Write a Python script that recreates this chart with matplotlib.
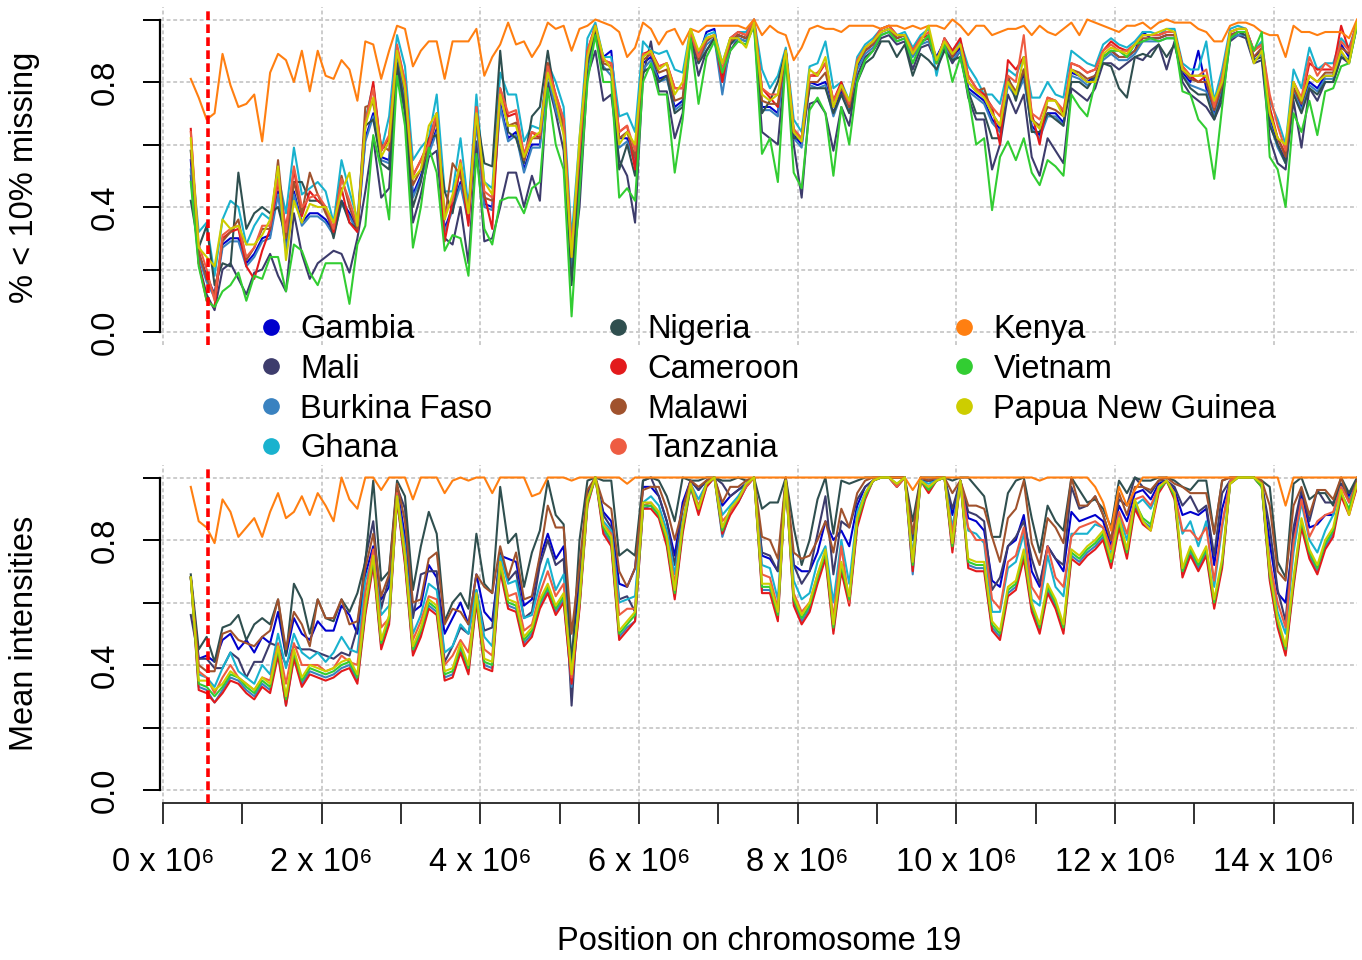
import numpy as np
import matplotlib.pyplot as plt
from matplotlib.lines import Line2D

plt.rcParams['font.family'] = ['Liberation Sans', 'DejaVu Sans']

# window midpoints along chromosome 19 (100 kb steps)
pos = np.arange(350000, 15100000, 100000)
cutoff = 570000  # red dashed marker

names = ['Gambia', 'Mali', 'Burkina Faso', 'Ghana', 'Nigeria', 'Cameroon',
         'Malawi', 'Tanzania', 'Kenya', 'Vietnam', 'Papua New Guinea']
colors = ['#0000CD', '#3D3C6C', '#3A82C0', '#19B2CE', '#2F4F4F', '#E31A1C',
          '#A0522D', '#EE5C42', '#FF7F11', '#32CD32', '#CDCD00']

# ---- top panel: fraction of probes with < 10% missing (in %) ----
gambia_miss = [55,25,18,12,28,30,30,22,25,30, 31,45,27,45,35,38,38,36,32,42, 38,33,62,70,56,55,88,75,44,50,
    58,65,33,40,48,36,68,41,40,73, 62,64,52,60,60,84,72,65,22,55, 85,97,88,90,62,62,55,86,88,81,
    82,72,74,96,88,96,97,82,93,95, 94,99,72,72,70,90,63,60,80,79, 80,70,77,72,85,90,92,96,97,94,
    95,89,93,94,88,93,88,91,78,76, 74,68,65,80,76,82,66,63,70,70, 67,83,82,80,82,88,90,88,88,90,
    96,94,94,95,95,83,80,90,78,70, 78,95,96,96,88,90,68,60,55,78, 72,80,78,82,82,92,88,99]
mali_miss = [50,22,12,7,20,22,17,12,19,20, 25,18,13,38,25,17,22,24,26,25, 19,30,45,62,43,46,84,70,35,44,
    56,58,30,28,40,22,61,29,30,40, 51,51,40,50,42,80,70,58,18,40, 82,90,74,76,55,50,35,82,93,77,
    77,62,70,95,82,90,94,80,90,94, 93,98,64,62,60,88,60,43,73,74, 70,58,72,66,82,88,90,94,95,92,
    93,84,91,92,86,91,86,90,75,68, 68,52,60,76,70,76,56,50,62,58, 54,78,76,74,78,86,86,84,86,88,
    87,90,92,84,93,80,76,74,72,68, 74,93,95,94,86,87,62,54,52,74, 59,78,74,80,80,88,86,98]
burkina_miss = [52,24,16,11,27,29,29,21,24,29, 30,44,26,44,34,37,37,35,31,41, 37,32,61,69,55,54,87,74,43,49,
    57,64,32,39,47,35,67,40,39,72, 61,63,51,59,59,83,71,64,21,54, 84,97,85,82,59,61,54,84,87,80,
    81,71,73,96,86,92,94,76,92,94, 93,99,71,71,69,89,62,59,79,78, 79,69,76,71,84,89,91,95,96,93,
    94,88,92,93,87,92,87,90,77,75, 73,67,64,79,75,81,65,62,69,69, 66,82,81,79,81,87,89,87,87,89,
    93,93,93,94,94,82,79,78,77,69, 77,94,95,95,87,89,67,59,54,77, 71,79,77,81,81,89,87,98]
ghana_miss = [58,32,35,18,36,42,40,28,34,38, 36,50,38,59,44,46,48,45,35,55, 45,36,68,79,58,69,95,85,55,59,
    62,76,45,45,62,40,76,48,46,83, 76,76,61,66,65,86,80,72,30,62, 94,99,88,88,69,70,64,93,90,89,
    90,84,83,97,89,95,96,86,94,96, 96,100,84,78,82,91,68,64,85,86, 93,78,80,74,88,92,94,97,98,95,
    96,91,95,97,82,94,90,93,85,81, 76,76,73,84,82,88,75,75,80,76, 75,90,88,86,85,92,94,92,91,93,
    96,96,95,97,97,86,84,84,93,74, 84,97,98,97,90,93,74,68,60,84, 78,91,84,86,86,94,91,99]
nigeria_miss = [42,27,34,15,22,21,51,33,38,40, 38,40,30,48,48,42,42,40,30,42, 35,33,66,68,54,52,86,72,40,48,
    62,63,45,38,54,38,70,54,53,90, 64,62,54,69,72,90,74,66,15,50, 86,96,84,84,52,60,50,83,85,80,
    82,70,72,95,86,90,94,82,92,95, 94,99,70,74,80,90,62,62,78,78, 78,70,76,70,80,86,88,93,93,88,
    92,82,89,87,84,90,87,88,77,70, 70,62,62,82,74,84,64,64,70,68, 66,80,80,78,82,86,85,78,75,88,
    89,88,92,88,92,82,78,76,76,68, 76,94,96,95,87,88,66,60,54,76, 70,78,76,80,80,88,87,99]
cameroon_miss = [65,22,10,8,30,32,33,21,17,26, 33,48,33,52,37,45,42,40,32,46, 35,32,66,80,58,62,91,80,50,55,
    61,70,29,42,52,34,72,44,33,78, 69,70,56,64,62,86,76,68,25,58, 90,98,87,86,64,66,52,89,90,85,
    86,78,78,96,88,94,95,80,94,96, 95,100,78,75,72,90,64,62,82,82, 86,74,80,72,86,91,93,97,98,95,
    95,90,94,95,86,94,90,94,82,78, 76,72,60,87,84,88,70,60,75,74, 70,86,85,83,84,90,93,91,90,92,
    95,95,95,96,96,85,82,80,82,72, 80,96,97,97,90,92,72,62,57,80, 74,86,84,84,84,98,90,99]
malawi_miss = [58,26,17,12,29,32,36,23,27,33, 33,55,30,48,38,51,44,38,33,50, 40,33,72,73,60,58,90,77,47,52,
    59,68,36,54,50,38,70,43,42,76, 66,67,55,62,62,86,74,66,24,57, 88,98,86,85,62,64,56,87,89,83,
    84,74,75,96,87,93,95,83,93,95, 94,99,74,73,73,90,64,61,80,80, 83,72,78,72,86,90,92,96,97,94,
    95,89,93,94,87,93,88,92,80,77, 78,70,66,81,77,84,68,66,72,71, 69,84,83,81,82,88,90,88,88,90,
    94,94,94,95,95,84,81,80,80,71, 79,95,96,96,88,91,70,62,56,78, 73,82,80,83,83,91,89,99]
tanzania_miss = [64,28,20,10,31,33,34,24,27,34, 34,49,32,53,40,43,44,40,33,49, 42,34,67,78,58,63,92,80,50,55,
    60,70,38,42,55,38,72,45,43,78, 70,71,57,64,63,85,76,68,27,58, 90,98,87,86,64,66,58,89,89,85,
    86,78,78,96,88,94,95,84,94,96, 95,100,78,76,76,90,65,62,82,83, 86,74,79,73,87,91,93,97,98,95,
    95,90,94,96,86,94,89,92,82,78, 75,72,69,82,80,95,70,68,75,74, 71,86,85,83,84,90,92,90,90,92,
    95,95,95,96,96,85,82,82,84,72, 82,96,97,97,90,92,76,66,58,80, 75,88,82,86,84,93,90,99]
kenya_miss = [81,75,68,70,89,79,72,73,76,61, 83,89,87,80,90,77,90,82,81,87, 84,74,93,92,81,90,98,97,85,90,
    93,93,81,93,93,93,97,82,88,92, 99,92,93,88,92,99,97,98,90,97, 98,100,99,98,96,88,91,99,97,92,
    96,97,92,97,96,98,98,98,98,98, 97,100,95,98,96,95,87,91,97,98, 97,97,96,98,98,98,98,97,98,98,
    97,98,97,98,98,97,100,98,95,98, 98,95,96,97,97,98,95,98,96,95, 97,99,95,100,99,98,97,96,98,98,
    99,97,99,100,99,99,99,97,96,93, 93,98,99,99,98,96,95,95,88,98, 96,96,95,96,96,96,94,100]
vietnam_miss = [48,21,10,8,13,15,19,10,18,17, 24,24,13,28,26,19,15,22,22,22, 9,28,34,63,52,36,82,66,27,40,
    59,51,26,31,30,18,57,33,28,42, 43,43,38,46,48,78,60,52,5,45, 80,95,80,80,43,46,42,80,86,76,
    76,51,68,94,73,88,93,83,90,93, 92,98,57,62,48,88,51,46,71,75, 70,50,72,60,80,87,90,95,96,93,
    94,86,92,95,86,92,80,88,76,60, 62,39,56,61,55,62,51,47,55,53, 50,76,72,69,80,88,90,90,88,92,
    93,94,93,94,94,77,76,68,65,49, 72,94,96,96,90,96,56,52,40,70, 64,74,63,77,78,85,86,98]
png_miss = [62,27,24,21,36,33,34,28,28,31, 36,53,23,42,35,41,40,40,35,45, 51,34,66,75,56,61,90,78,49,52,
    66,70,36,44,54,38,70,48,44,76, 66,66,56,62,64,83,74,63,24,62, 88,98,88,84,60,64,60,88,90,84,
    86,76,80,97,90,94,95,86,94,94, 91,99,76,74,76,90,64,61,84,82, 88,72,79,74,86,91,93,96,97,95,
    95,89,93,98,87,93,89,92,80,77, 75,70,66,80,76,88,68,65,74,74, 69,84,82,80,80,89,91,90,89,92,
    95,95,96,97,96,84,82,82,82,74, 80,96,97,97,86,90,70,62,60,80, 74,82,80,82,82,90,86,99]

# ---- bottom panel: mean intensities (in %) ----
gambia_int = [68,42,43,41,48,50,45,48,44,49, 47,57,43,55,50,48,54,51,51,59, 56,50,69,78,61,65,97,81,57,59,
    72,68,50,55,60,53,69,57,54,75, 74,73,59,61,74,82,74,78,40,68, 95,100,89,86,66,65,71,97,97,94,
    86,75,92,99,96,99,100,91,94,96, 98,100,75,74,70,99,72,70,70,76, 86,80,83,78,91,97,99,100,100,100,
    100,80,99,99,99,100,88,99,87,86, 83,67,65,78,80,88,70,65,78,74, 70,89,86,87,88,86,78,91,86,95,
    96,93,98,99,96,88,89,88,90,72, 90,99,100,100,100,98,79,63,60,81, 95,84,85,88,88,98,94,99]
mali_int = [56,42,42,39,39,44,42,36,41,41, 47,46,40,46,45,45,44,43,42,44, 43,52,74,86,58,68,97,90,55,69,
    70,70,41,46,52,50,64,51,52,76, 67,70,55,57,72,80,72,74,27,66, 94,100,88,84,61,62,57,99,100,94,
    86,72,90,99,96,99,100,98,94,96, 98,100,76,75,70,99,72,66,70,82, 94,69,86,84,93,97,99,100,100,100,
    100,80,99,99,99,100,90,99,89,88, 86,64,68,78,81,86,74,66,78,74, 72,97,90,91,94,88,80,93,91,100,
    97,95,99,99,97,91,94,89,91,75, 95,99,100,100,100,98,84,64,54,84, 96,86,96,92,92,98,95,99]
burkina_int = [68,33,32,28,32,36,35,32,30,34, 32,44,27,43,34,38,37,36,37,39, 40,35,57,73,46,54,93,73,44,50,
    59,57,36,37,45,38,61,40,39,71, 59,58,47,50,59,64,57,61,33,59, 92,100,83,79,49,52,54,90,91,88,
    79,62,83,97,89,97,100,81,89,92, 97,100,64,64,55,99,60,54,58,67, 75,51,71,60,85,94,99,100,100,97,
    100,69,99,96,99,100,77,99,72,71, 71,52,49,63,65,75,58,51,64,59, 51,75,73,76,78,81,72,85,75,91,
    86,84,96,99,94,69,76,71,76,59, 72,98,100,100,100,97,68,53,44,66, 85,75,70,78,82,95,89,97]
ghana_int = [68,37,36,33,39,44,38,36,34,40, 37,50,39,50,44,42,44,41,44,49, 45,44,67,75,56,59,95,78,50,56,
    66,64,44,46,53,50,64,49,46,75, 66,67,55,56,66,74,64,69,37,62, 93,100,86,83,60,61,62,92,94,91,
    83,69,86,98,93,98,100,88,91,94, 98,100,72,71,61,99,67,61,63,73, 78,60,80,66,89,95,99,100,100,97,
    100,75,99,98,99,100,84,99,83,82, 79,57,57,71,73,82,61,59,75,65, 62,82,82,82,85,84,75,88,80,91,
    93,90,96,99,94,82,86,78,86,65, 84,99,100,100,100,97,73,57,50,76, 92,80,76,83,88,97,93,98]
nigeria_int = [69,45,49,41,52,53,56,48,53,55, 53,61,43,66,61,50,61,55,54,61, 57,63,73,99,67,70,99,94,64,78,
    89,82,54,60,63,58,82,66,63,97, 79,82,65,76,83,99,88,85,40,80, 99,100,99,99,75,77,75,99,100,99,
    94,86,100,99,99,100,100,99,99,100, 99,100,90,92,92,100,84,72,80,93, 100,82,99,98,99,100,100,100,100,100,
    100,86,100,100,100,100,99,100,100,97, 94,81,81,95,99,100,87,76,91,86, 83,100,96,92,93,90,84,99,95,100,
    99,99,100,100,99,97,96,99,99,82, 99,100,100,100,100,99,97,73,68,98, 100,93,95,95,91,100,95,100]
cameroon_int = [68,32,31,28,31,35,34,31,29,33, 31,43,27,42,33,37,36,35,36,38, 39,34,56,72,45,53,93,72,43,49,
    58,56,35,36,44,37,60,39,38,70, 58,57,46,49,58,63,56,60,34,58, 91,100,82,78,48,51,54,90,90,87,
    78,61,82,97,88,97,100,82,88,92, 97,100,63,63,54,99,59,53,57,66, 74,50,70,59,84,93,99,100,100,97,
    100,70,99,95,99,100,76,99,71,70, 70,51,48,62,64,74,57,50,63,58, 50,74,72,75,77,80,71,84,74,90,
    85,83,95,99,93,68,75,70,75,58, 71,98,100,100,100,97,67,52,43,65, 84,74,69,77,81,94,88,97]
malawi_int = [68,40,38,38,50,51,48,47,46,49, 51,61,45,57,53,46,61,55,55,61, 53,54,71,82,62,69,98,86,60,61,
    74,76,53,58,57,53,69,65,63,78, 68,76,61,62,75,91,84,84,50,72, 96,100,92,90,70,65,71,96,97,97,
    90,80,90,99,97,99,100,92,97,97, 99,100,81,80,74,100,76,74,75,80, 86,76,90,84,95,99,100,100,100,100,
    100,82,100,99,100,100,95,99,91,91, 90,81,73,87,90,99,79,72,87,84, 79,100,91,91,94,88,80,95,88,97,
    97,96,99,100,98,97,95,95,95,82, 99,100,100,100,100,99,91,70,67,91, 97,88,96,96,93,100,92,99]
tanzania_int = [68,38,36,31,36,40,36,34,32,36, 35,47,34,47,40,40,40,38,39,43, 41,40,63,77,52,55,95,76,48,54,
    62,61,40,43,48,44,61,45,43,73, 62,63,51,53,63,70,62,66,36,60, 92,100,85,82,56,58,58,91,92,89,
    81,66,85,98,91,98,100,86,89,93, 97,100,69,68,58,99,63,57,60,69, 76,55,78,60,87,94,99,100,100,97,
    100,73,99,97,99,100,82,99,84,80, 80,61,58,73,75,84,65,61,78,68, 65,81,84,85,86,84,77,89,82,93,
    94,91,97,99,95,83,83,80,84,67, 85,99,100,100,100,97,73,60,52,79, 93,81,86,88,89,97,92,98]
kenya_int = [97,86,84,79,93,89,81,84,87,81, 89,95,87,89,94,88,95,91,86,100, 93,90,100,100,96,100,100,100,93,100,
    100,100,95,99,100,99,100,100,95,100, 100,100,100,94,95,100,100,100,99,100, 100,100,100,100,100,98,100,100,100,100,
    100,100,100,100,100,100,100,100,100,100, 100,100,100,100,100,100,100,100,100,100, 100,100,100,100,100,100,100,100,100,100,
    100,96,100,100,100,100,100,100,100,100, 100,100,100,100,100,100,100,99,100,100, 100,100,100,100,97,92,83,97,91,96,
    100,100,100,100,100,100,100,100,100,100, 100,100,100,100,100,100,100,100,91,100, 100,100,100,100,100,100,100,100]
vietnam_int = [68,34,33,30,33,37,36,33,31,35, 33,45,29,44,35,39,38,37,38,40, 41,36,58,74,47,55,94,74,45,51,
    60,58,37,38,46,39,62,41,40,72, 60,59,48,51,60,65,58,62,38,60, 92,100,84,80,50,53,56,91,91,88,
    80,63,84,97,90,98,100,83,90,93, 98,100,65,65,56,99,61,55,59,68, 76,52,72,61,86,94,99,100,100,98,
    100,72,99,96,99,100,78,99,73,72, 72,53,50,64,66,76,59,52,65,60, 52,76,74,77,79,82,73,86,76,92,
    87,85,96,99,94,70,77,72,77,60, 73,98,100,100,100,97,69,54,45,67, 86,76,71,79,83,95,90,98]
png_int = [68,35,35,32,34,38,36,34,32,36, 34,46,30,45,36,40,39,38,39,41, 42,37,59,75,48,56,94,75,46,52,
    61,59,38,39,47,40,63,42,41,73, 61,60,49,52,61,66,59,63,37,61, 93,100,85,81,51,54,57,92,92,89,
    81,64,85,98,90,98,100,84,90,93, 98,100,66,66,57,99,62,56,60,69, 77,53,73,62,87,95,99,100,100,98,
    100,73,99,97,99,100,79,99,74,73, 73,54,51,65,67,77,60,53,66,61, 53,77,75,78,80,83,74,87,77,93,
    86,83,97,99,95,71,78,73,78,61, 74,98,100,100,100,98,70,55,46,68, 87,77,72,80,84,96,88,98]

missing = [gambia_miss, mali_miss, burkina_miss, ghana_miss, nigeria_miss, cameroon_miss,
           malawi_miss, tanzania_miss, kenya_miss, vietnam_miss, png_miss]
intens = [gambia_int, mali_int, burkina_int, ghana_int, nigeria_int, cameroon_int,
          malawi_int, tanzania_int, kenya_int, vietnam_int, png_int]

FS = 23.5
W, H = 1362, 960
fig = plt.figure(figsize=(W / 100, H / 100), dpi=100)
ax1 = fig.add_axes([160 / W, (H - 344.5) / H, 1197 / W, 337.5 / H])
ax2 = fig.add_axes([160 / W, (H - 802.5) / H, 1197 / W, 337.5 / H])

def style(ax, data, bottom_axis):
    for y in np.arange(0, 1.01, 0.2):
        ax.axhline(y, color='#cccccc', lw=1.4, ls=(0, (2, 1.4)), zorder=0)
    for x in np.arange(0, 15e6, 2e6):
        ax.axvline(x, color='#cccccc', lw=1.4, ls=(0, (2, 1.4)), zorder=0)
    for vals, col in zip(data, colors):
        ax.plot(pos, np.array(vals) / 100.0, color=col, lw=1.5, zorder=2)
    ax.axvline(cutoff, color='#FF0000', lw=2.6, ls=(0, (2.4, 1.2)), zorder=3)
    ax.set_xlim(-0.038e6, 15.05e6)
    ax.set_ylim(-0.04, 1.04)
    ax.spines['top'].set_visible(False)
    ax.spines['right'].set_visible(False)
    ax.spines['left'].set_bounds(0, 1)
    ax.spines['left'].set_linewidth(1.6)
    ax.set_yticks(np.arange(0, 1.01, 0.2))
    ax.set_yticklabels(['0.0', '', '0.4', '', '0.8', ''], rotation=90, va='center')
    ax.tick_params(axis='y', length=12, width=1.4, pad=16, labelsize=FS)
    if bottom_axis:
        ax.spines['bottom'].set_bounds(0, 15e6)
        ax.spines['bottom'].set_linewidth(1.3)
        ax.spines['bottom'].set_color('#222222')
        ax.set_xticks(np.arange(0, 15.5e6, 1e6))
        ax.set_xticklabels(['%d x 10\u2076' % k if k % 2 == 0 else '' for k in range(16)])
        ax.tick_params(axis='x', length=15, width=1.3, pad=17, labelsize=FS, color='#222222')
    else:
        ax.spines['bottom'].set_visible(False)
        ax.set_xticks([])

style(ax1, missing, False)
style(ax2, intens, True)

fig.text(25 / W, 1 - 177.5 / H, '% < 10% missing', rotation=90, ha='center', va='center', fontsize=FS)
fig.text(25 / W, 1 - 633.5 / H, 'Mean intensities', rotation=90, ha='center', va='center', fontsize=FS)
fig.text(759 / W, 1 - 941 / H, 'Position on chromosome 19', ha='center', va='center', fontsize=FS)

# legend in three columns
cols = [(range(0, 4), 258), (range(4, 8), 605), (range(8, 11), 951)]
for idx, xl in cols:
    handles = [Line2D([], [], ls='none', marker='o', markersize=11, color=colors[k]) for k in idx]
    fig.legend(handles, [names[k] for k in idx], loc='upper left',
               bbox_to_anchor=(xl / W, 1 - 314 / H), frameon=False, fontsize=FS,
               borderpad=0, borderaxespad=0, handlelength=0.8, handletextpad=0.5,
               labelspacing=0.27)

fig.savefig('out.png', dpi=100)
